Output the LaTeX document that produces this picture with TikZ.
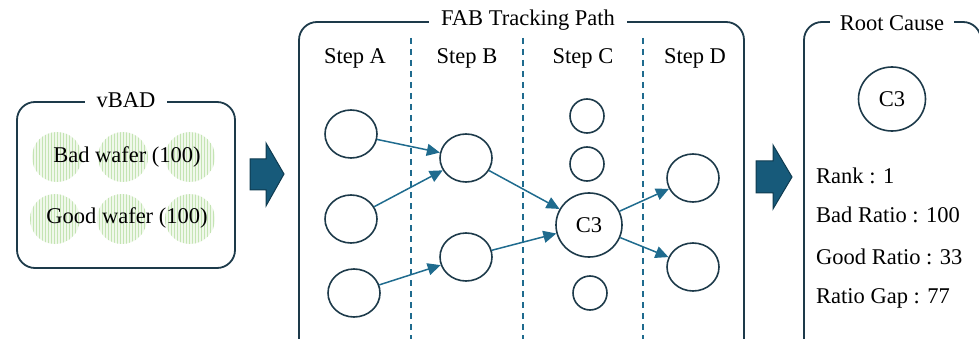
\documentclass[tikz,border=0pt]{standalone}
\usepackage{fontspec}
\setmainfont{Liberation Serif}
\usetikzlibrary{shapes.geometric,arrows.meta,patterns}

\definecolor{frame}{HTML}{1D3A4A}
\definecolor{flow}{HTML}{1F6B8E}
\definecolor{blockfill}{HTML}{175A7A}
\definecolor{blockedge}{HTML}{0F3B50}
\definecolor{wafer}{HTML}{C4E4B3}
\definecolor{waferbg}{HTML}{F0F8EB}

\tikzset{
  panel/.style={draw=frame, line width=1.8pt, rounded corners=18pt},
  paneltitle/.style={fill=white, inner xsep=12pt, inner ysep=2pt, font=\fontsize{22.5}{27}\selectfont},
  txt/.style={font=\fontsize{22.5}{27}\selectfont, inner sep=0pt},
  stage/.style={draw=frame, line width=1.6pt, ellipse, inner sep=0pt,
    minimum width=52pt, minimum height=48pt, font=\fontsize{22.5}{27}\selectfont},
  smallstage/.style={stage, minimum width=34pt, minimum height=34pt},
  bigstage/.style={stage, minimum width=66pt, minimum height=64pt},
  conn/.style={draw=flow, line width=1.5pt, -{Triangle[length=13pt,width=12pt]}},
  divider/.style={draw=flow, line width=1.4pt, dash pattern=on 6pt off 5pt},
  blob/.style={circle, minimum size=50pt, inner sep=0pt, fill=waferbg,
    postaction={pattern=vertical lines, pattern color=wafer}},
  blockarrow/.style={fill=blockfill, draw=blockedge, line width=1pt, line join=miter},
}

\begin{document}
\begin{tikzpicture}[x=1pt, y=-1pt]
\useasboundingbox (0,0) rectangle (979,339);
\clip (0,0) rectangle (979,339);

% ---- vBAD panel
\foreach \cx/\cy [count=\i] in {57/157, 123/157, 190/157, 55/219, 122/219, 190/219}
  \node[blob] (w\i) at (\cx,\cy) {};
\draw[panel] (17,102) rectangle (235,268);
\node[paneltitle] (vbad) at (126,100) {vBAD};
\node[txt] (bad) at (127,157) {Bad wafer (100)};
\node[txt] (good) at (127,218) {Good wafer (100)};

% ---- block arrows between panels
\draw[blockarrow] (250,159) -- (266,159) -- (266,143) -- (284,174) -- (266,206) -- (266,190) -- (250,190) -- cycle;
\draw[blockarrow] (756,161) -- (773,161) -- (773,145) -- (792,177) -- (773,209) -- (773,193) -- (756,193) -- cycle;

% ---- FAB tracking path panel
\draw[panel] (299,22) rectangle (744,360);
\node[paneltitle] (fab) at (528,20) {FAB Tracking Path};

\foreach \x in {411,523,643}
  \draw[divider] (\x,38) -- (\x,339);

\node[txt] (sa) at (355,58) {Step A};
\node[txt] (sb) at (467,58) {Step B};
\node[txt] (sc) at (583,58) {Step C};
\node[txt] (sd) at (695,58) {Step D};

\node[stage] (A1) at (351,134) {};
\node[stage] (A2) at (351,219) {};
\node[stage] (A3) at (354,293) {};
\node[stage] (B1) at (466,158) {};
\node[stage] (B2) at (466,257) {};
\node[smallstage] (C1) at (587,116) {};
\node[smallstage] (C2) at (587,164) {};
\node[bigstage] (C3) at (589,225) {C3};
\node[smallstage] (C4) at (590,293) {};
\node[stage] (D1) at (693,178) {};
\node[stage] (D2) at (693,267) {};

\draw[conn] (A1) -- (B1);
\draw[conn] (A2) -- (B1);
\draw[conn] (A3) -- (B2);
\draw[conn] (B1) -- (C3);
\draw[conn] (B2) -- (C3);
\draw[conn] (C3) -- (D1);
\draw[conn] (C3) -- (D2);

% ---- root cause panel
\draw[panel] (804,22) rectangle (981,360);
\node[paneltitle, inner xsep=10pt] (rc) at (892,23) {Root Cause};
\node[stage, minimum width=67pt, minimum height=64pt] (R) at (892,99) {C3};
\node[txt, anchor=west] (rank) at (816,176) {Rank : 1};
\node[txt, anchor=west] (badr) at (816,215) {Bad Ratio : 100};
\node[txt, anchor=west] (goodr) at (816,257) {Good Ratio : 33};
\node[txt, anchor=west] (gap) at (816,298) {Ratio Gap : 77};
\end{tikzpicture}
\end{document}
